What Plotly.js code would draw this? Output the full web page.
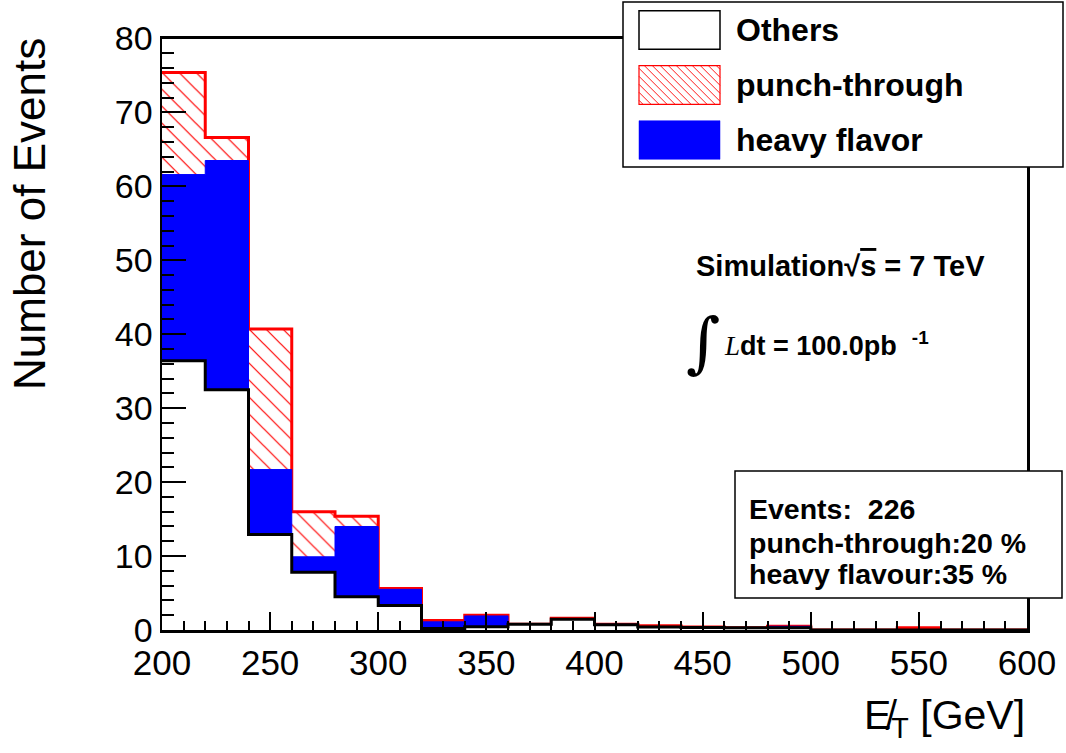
<!DOCTYPE html>
<html><head><meta charset="utf-8">
<script src="https://cdn.plot.ly/plotly-3.0.1.min.js"></script>
<style>html,body{margin:0;padding:0;background:#fff}#plot{width:1066px;height:753px}</style>
</head><body><div id="plot"></div>
<script>
// ---- data ----
const binEdges = [200,220,240,260,280,300,320,340,360,380,400,420,440,460,480,500,520,540,560,580,600];
const others       = [36.4, 32.5, 12.9, 7.8, 4.5, 3.3, 0.2, 0.45, 0.77, 1.45, 0.7, 0.4, 0.35, 0.3, 0.3, 0, 0, 0, 0, 0];
const heavyFlavor  = [25.2, 31.0, 8.8, 2.1, 9.5, 2.2, 0.9, 1.45, 0, 0, 0.07, 0, 0, 0, 0.2, 0, 0, 0, 0, 0];
const punchThrough = [13.8, 3.1, 19.0, 6.1, 1.4, 0.1, 0.2, 0.1, 0, 0.13, 0, 0.18, 0.05, 0, 0, 0, 0, 0.3, 0, 0];
const xTickVals = [200,250,300,350,400,450,500,550,600];
const yTickVals = [0,10,20,30,40,50,60,70,80];
const legendLabels = ['Others','punch-through','heavy flavor'];
const statsLines = ['Events:  226','punch-through:20 %','heavy flavour:35 %'];

// ---- helpers ----
const W = 1066, H = 753;
const px = v => v / W;
const py = v => 1 - v / H;
const FONT = 'Liberation Sans, Arial, Helvetica, sans-serif';
const stepY = vals => vals.concat([vals[vals.length - 1]]);

const cumOthers = others.slice();
const cumHF = others.map((v, i) => v + heavyFlavor[i]);
const cumTotal = cumHF.map((v, i) => v + punchThrough[i]);

const traces = [
  { x: binEdges, y: stepY(cumTotal), type: 'scatter', mode: 'lines',
    line: { shape: 'hv', color: '#ff0000', width: 3 },
    fill: 'tozeroy', fillcolor: 'white',
    fillpattern: { shape: '\\', fgcolor: '#ff0000', bgcolor: 'white', size: 12, solidity: 0.1 },
    hoverinfo: 'skip', showlegend: false },
  { x: binEdges, y: stepY(cumHF), type: 'scatter', mode: 'lines',
    line: { shape: 'hv', color: '#0000ff', width: 1 },
    fill: 'tozeroy', fillcolor: '#0000ff', hoverinfo: 'skip', showlegend: false },
  { x: binEdges, y: stepY(cumOthers), type: 'scatter', mode: 'lines',
    line: { shape: 'hv', color: '#000000', width: 3 },
    fill: 'tozeroy', fillcolor: 'white', hoverinfo: 'skip', showlegend: false }
];

// ---- legend box (drawn like the ROOT TLegend) ----
const shapes = [];
shapes.push({ type: 'rect', xref: 'paper', yref: 'paper', layer: 'above',
  x0: px(623), x1: px(1063), y0: py(167), y1: py(2),
  fillcolor: 'white', line: { color: 'black', width: 1.5 } });
const iconX0 = 639, iconX1 = 720;
const iconRows = [[10.7, 49.3], [65.7, 104.3], [120.7, 159.3]];
shapes.push({ type: 'rect', xref: 'paper', yref: 'paper', layer: 'above',
  x0: px(iconX0), x1: px(iconX1), y0: py(iconRows[0][1]), y1: py(iconRows[0][0]),
  fillcolor: 'white', line: { color: 'black', width: 1.5 } });
shapes.push({ type: 'rect', xref: 'paper', yref: 'paper', layer: 'above',
  x0: px(iconX0), x1: px(iconX1), y0: py(iconRows[1][1]), y1: py(iconRows[1][0]),
  fillcolor: 'white', line: { color: '#ff0000', width: 1.2 } });
// hatch inside the punch-through icon
(function () {
  const x0 = iconX0, x1 = iconX1, y0 = iconRows[1][0], y1 = iconRows[1][1];
  let path = '';
  for (let c = x0 - y1 + 4; c < x1 - y0; c += 8) {
    const ys = Math.max(y0, x0 - c), ye = Math.min(y1, x1 - c);
    if (ye > ys) path += 'M' + px(ys + c) + ',' + py(ys) + 'L' + px(ye + c) + ',' + py(ye);
  }
  shapes.push({ type: 'path', xref: 'paper', yref: 'paper', layer: 'above', path: path,
    line: { color: '#ff0000', width: 0.9 } });
})();
shapes.push({ type: 'rect', xref: 'paper', yref: 'paper', layer: 'above',
  x0: px(iconX0), x1: px(iconX1), y0: py(iconRows[2][1]), y1: py(iconRows[2][0]),
  fillcolor: '#0000ff', line: { color: '#0000ff', width: 0.5 } });
// stats box
shapes.push({ type: 'rect', xref: 'paper', yref: 'paper', layer: 'above',
  x0: px(735), x1: px(1062), y0: py(598), y1: py(471),
  fillcolor: 'white', line: { color: 'black', width: 1.5 } });

const annotations = [];
legendLabels.forEach((t, i) => {
  annotations.push({ xref: 'paper', yref: 'paper', x: px(734), y: py((iconRows[i][0] + iconRows[i][1]) / 2),
    xanchor: 'left', yanchor: 'middle', showarrow: false, text: '<b>' + t + '</b>',
    font: { family: FONT, size: 32, color: 'black' } });
});
const statsY = [509, 543, 574];
statsLines.forEach((t, i) => {
  annotations.push({ xref: 'paper', yref: 'paper', x: px(747), y: py(statsY[i]),
    xanchor: 'left', yanchor: 'middle', showarrow: false, text: '<b>' + t + '</b>',
    font: { family: FONT, size: 28.5, color: 'black' } });
});
annotations.push({ xref: 'paper', yref: 'paper', x: px(694), y: py(266), xanchor: 'left', yanchor: 'middle',
  showarrow: false, text: '<b>Simulation√<span style="text-decoration:overline">s</span> = 7 TeV</b>',
  font: { family: FONT, size: 29, color: 'black' } });
annotations.push({ xref: 'paper', yref: 'paper', x: px(721), y: py(342), xanchor: 'right', yanchor: 'middle',
  borderpad: 0, showarrow: false, text: '∫',
  font: { family: 'DejaVu Serif, Liberation Serif, serif', size: 66, color: 'black' } });
annotations.push({ xref: 'paper', yref: 'paper', x: px(723), y: py(344), xanchor: 'left', yanchor: 'middle',
  borderpad: 0, showarrow: false,
  text: '<span style="font-family:Liberation Serif, Times New Roman, serif;font-style:italic">L</span><b>dt = 100.0pb</b>  <sup><b>-1</b></sup>',
  font: { family: FONT, size: 27, color: 'black' } });
// axis titles (ROOT style: right / top aligned)
annotations.push({ xref: 'paper', yref: 'paper', x: px(1027), y: py(718), xanchor: 'right', yanchor: 'middle',
  showarrow: false, text: 'E\u0338<sub>T</sub> [GeV]', font: { family: FONT, size: 41, color: 'black' } });
annotations.push({ xref: 'paper', yref: 'paper', x: px(30), y: py(36), xanchor: 'center', yanchor: 'top',
  textangle: -90, showarrow: false, text: 'Number of Events', font: { family: FONT, size: 44, color: 'black' } });

const layout = {
  width: W, height: H,
  margin: { l: 0, r: 0, t: 0, b: 0 },
  paper_bgcolor: 'white', plot_bgcolor: 'white',
  showlegend: false,
  xaxis: {
    domain: [px(162), px(1027)], range: [200, 600],
    tickvals: xTickVals, ticktext: xTickVals.map(String),
    ticks: 'inside', ticklen: 18, tickwidth: 2, tickcolor: 'black',
    minor: { dtick: 10, tick0: 200, ticks: 'inside', ticklen: 9, tickwidth: 2, tickcolor: 'black', showgrid: false },
    showgrid: false, zeroline: false, showline: true, linewidth: 2.5, linecolor: 'black', mirror: true,
    tickfont: { family: FONT, size: 35, color: 'black' }, fixedrange: true
  },
  yaxis: {
    domain: [py(630), py(38.5)], range: [0, 80],
    tickvals: yTickVals, ticktext: yTickVals.map(String),
    ticks: 'inside', ticklen: 24, tickwidth: 2, tickcolor: 'black',
    minor: { dtick: 2, tick0: 0, ticks: 'inside', ticklen: 12, tickwidth: 2, tickcolor: 'black', showgrid: false },
    showgrid: false, zeroline: false, showline: true, linewidth: 2.5, linecolor: 'black', mirror: true,
    tickfont: { family: FONT, size: 34, color: 'black' }, fixedrange: true
  },
  shapes: shapes,
  annotations: annotations
};

Plotly.newPlot('plot', traces, layout, { displayModeBar: false, staticPlot: true });
</script>
</body></html>
